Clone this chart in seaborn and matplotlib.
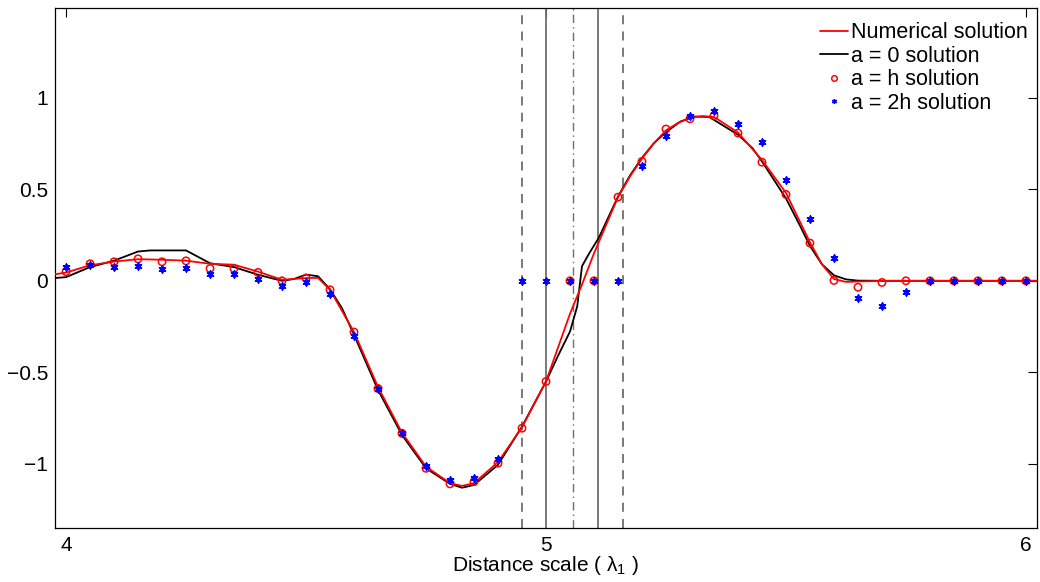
import numpy as np
import pandas as pd
import matplotlib
matplotlib.use("Agg")
import matplotlib.pyplot as plt
import seaborn as sns
from matplotlib.lines import Line2D

# ---------------- data ----------------
x_num = [3.975, 4.0, 4.05, 4.1, 4.15, 4.2, 4.25, 4.3, 4.35, 4.4, 4.45, 4.5, 4.525,
         4.55, 4.6, 4.65, 4.7, 4.75, 4.8, 4.825, 4.85, 4.9, 4.95, 5.0, 5.05, 5.075,
         5.1, 5.15, 5.175, 5.2, 5.225, 5.25, 5.275, 5.3, 5.325, 5.35, 5.4, 5.45, 5.5,
         5.55, 5.575, 5.6, 5.625, 5.65, 5.7, 5.8, 5.9, 6.0, 6.025]
y_num = [0.035, 0.045, 0.085, 0.105, 0.118, 0.115, 0.11, 0.093, 0.088, 0.05, 0.006,
         0.015, 0.016, -0.049, -0.28, -0.58, -0.83, -1.015, -1.105, -1.12, -1.105,
         -0.99, -0.8, -0.55, -0.18, -0.02, 0.15, 0.457, 0.57, 0.668, 0.752, 0.822,
         0.862, 0.89, 0.9, 0.895, 0.81, 0.66, 0.48, 0.21, 0.09, 0.01, -0.006, -0.004,
         0.0, 0.0, 0.0, 0.0, 0.0]

x_a0 = [3.975, 4.0, 4.05, 4.1, 4.15, 4.175, 4.25, 4.3, 4.35, 4.4, 4.45, 4.475, 4.5,
        4.525, 4.55, 4.575, 4.6, 4.65, 4.7, 4.75, 4.8, 4.825, 4.85, 4.9, 4.95, 5.0,
        5.025, 5.05, 5.065, 5.075, 5.09, 5.11, 5.15, 5.175, 5.2, 5.225, 5.25, 5.28,
        5.31, 5.34, 5.4, 5.43, 5.45, 5.5, 5.53, 5.55, 5.575, 5.6, 5.625, 5.65, 5.7,
        5.8, 5.9, 6.0, 6.025]
y_a0 = [0.015, 0.02, 0.075, 0.11, 0.16, 0.166, 0.166, 0.096, 0.075, 0.033, 0.0, 0.01,
        0.034, 0.025, -0.046, -0.15, -0.295, -0.596, -0.842, -1.024, -1.109, -1.13,
        -1.115, -1.005, -0.796, -0.55, -0.41, -0.277, -0.14, 0.08, 0.15, 0.235, 0.46,
        0.575, 0.672, 0.752, 0.812, 0.87, 0.897, 0.895, 0.798, 0.725, 0.652, 0.45,
        0.297, 0.19, 0.09, 0.03, 0.008, 0.001, 0.0, 0.0, 0.0, 0.0, 0.0]

x_pts = [4.0, 4.05, 4.1, 4.15, 4.2, 4.25, 4.3, 4.35, 4.4, 4.45, 4.5, 4.55, 4.6, 4.65,
         4.7, 4.75, 4.8, 4.85, 4.9, 4.95, 5.0, 5.05, 5.1, 5.15, 5.2, 5.25, 5.3, 5.35,
         5.4, 5.45, 5.5, 5.55, 5.6, 5.65, 5.7, 5.75, 5.8, 5.85, 5.9, 5.95, 6.0]
y_ah = [0.05, 0.093, 0.104, 0.12, 0.104, 0.109, 0.067, 0.067, 0.046, 0.0, 0.015,
        -0.049, -0.28, -0.588, -0.833, -1.024, -1.109, -1.097, -0.996, -0.805, -0.55,
        0.0, 0.0, 0.457, 0.652, 0.829, 0.885, 0.902, 0.807, 0.648, 0.472, 0.206, 0.002,
        -0.035, -0.009, 0.0, 0.0, 0.0, 0.0, 0.0, 0.0]
y_a2h = [0.073, 0.086, 0.073, 0.082, 0.064, 0.071, 0.035, 0.035, 0.009, -0.031, -0.004,
         -0.071, -0.299, -0.59, -0.83, -1.01, -1.09, -1.075, -0.973, 0.0, 0.0, 0.0, 0.0,
         0.0, 0.625, 0.79, 0.898, 0.925, 0.856, 0.76, 0.55, 0.339, 0.122, -0.095, -0.14,
         -0.06, 0.0, 0.0, 0.0, 0.0, 0.0]

vlines_solid = [5.0, 5.108]
vlines_dashed = [4.951, 5.16]
vlines_dashdot = [5.056]

legend_labels = ["Numerical solution", "a = 0 solution", "a = h solution", "a = 2h solution"]
xticks = [4, 5, 6]
yticks = [-1, -0.5, 0, 0.5, 1]

# ---------------- style ----------------
sns.set_theme(style="white")
plt.rcParams["font.family"] = ["Liberation Sans", "DejaVu Sans"]
plt.rcParams["mathtext.fontset"] = "custom"
plt.rcParams["mathtext.rm"] = "Liberation Sans"
plt.rcParams["mathtext.it"] = "Liberation Sans"
plt.rcParams["mathtext.default"] = "rm"
plt.rcParams["axes.unicode_minus"] = True
plt.rcParams["text.color"] = "black"
plt.rcParams["axes.labelcolor"] = "black"
plt.rcParams["xtick.color"] = "black"
plt.rcParams["ytick.color"] = "black"

fig = plt.figure(figsize=(10.4, 5.82), dpi=100)
ax = fig.add_axes([55 / 1040, 1 - 528 / 582, (1037 - 55) / 1040, (528 - 8) / 582])

df_num = pd.DataFrame({"x": x_num, "y": y_num})
df_a0 = pd.DataFrame({"x": x_a0, "y": y_a0})
df_h = pd.DataFrame({"x": x_pts, "y": y_ah})
df_2h = pd.DataFrame({"x": x_pts, "y": y_a2h})

grey = "#6e6e6e"
for v in vlines_solid:
    ax.axvline(v, color=grey, lw=1.3, ls="-", zorder=1)
for v in vlines_dashed:
    ax.axvline(v, color=grey, lw=1.3, ls=(0, (5, 4)), zorder=1)
for v in vlines_dashdot:
    ax.axvline(v, color=grey, lw=1.0, ls=(0, (6, 3, 1, 3)), zorder=1)

sns.lineplot(data=df_num, x="x", y="y", ax=ax, color="#ff0000", lw=1.3,
             sort=False, estimator=None, zorder=3)
sns.lineplot(data=df_a0, x="x", y="y", ax=ax, color="black", lw=1.3,
             sort=False, estimator=None, zorder=2)
sns.scatterplot(data=df_h, x="x", y="y", ax=ax, marker="o", s=28,
                facecolors="none", edgecolor="#ff0000", linewidth=1.1, zorder=4)
sns.scatterplot(data=df_2h, x="x", y="y", ax=ax, marker=(6, 2, 0), s=22,
                color="#0000ff", edgecolor="#0000ff", linewidth=1.3, zorder=5)

ax.set_xlim(3.977, 6.023)
ax.set_ylim(-1.35, 1.49)
ax.set_xticks(xticks)
ax.set_xticklabels([str(t) for t in xticks])
ax.set_yticks(yticks)
ax.set_yticklabels(["\u22121", "\u22120.5", "0", "0.5", "1"])
ax.tick_params(direction="in", length=6.5, width=0.8, top=True, right=True,
               labelsize=15, colors="black", pad=5)
ax.tick_params(axis="x", pad=6)
for sp in ax.spines.values():
    sp.set_color("black")
    sp.set_linewidth(0.9)
ax.set_xlabel("Distance scale ( $\\lambda_1$ )", fontsize=15, labelpad=-1, color="black")
ax.set_ylabel("")

handles = [
    Line2D([], [], color="#ff0000", lw=1.3),
    Line2D([], [], color="black", lw=1.3),
    Line2D([], [], color="#ff0000", marker="o", ls="none", markerfacecolor="none",
           markersize=4, markeredgewidth=1.1),
    Line2D([], [], color="#0000ff", marker=(6, 2, 0), ls="none", markersize=3.5,
           markeredgewidth=1.0),
]
leg = ax.legend(handles, legend_labels, loc="upper left", bbox_to_anchor=(0.772, 0.985),
                frameon=False, fontsize=15.5, handlelength=1.3, handletextpad=0.15,
                labelspacing=0.12, borderpad=0.3, borderaxespad=0.0)
for t in leg.get_texts():
    t.set_color("black")

fig.savefig("out.png", dpi=100)
